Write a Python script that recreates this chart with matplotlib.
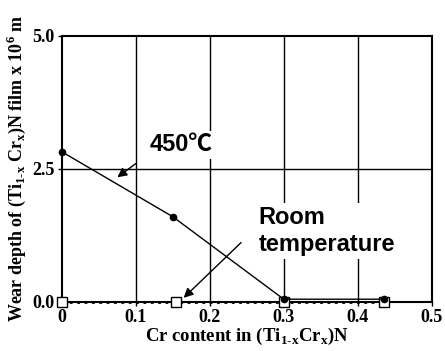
import matplotlib
matplotlib.use('Agg')
import matplotlib.pyplot as plt

# Cr content x in (Ti1-xCrx)N
cr_450 = [0.0, 0.15, 0.30, 0.435]
wear_450 = [2.82, 1.60, 0.05, 0.05]

cr_room = [0.0, 0.155, 0.30, 0.435]
wear_room = [0.0, 0.0, 0.0, 0.0]

xticks = [0, 0.1, 0.2, 0.3, 0.4, 0.5]
xticklabels = ['0', '0.1', '0.2', '0.3', '0.4', '0.5']
yticks = [0.0, 2.5, 5.0]
yticklabels = ['0.0', '2.5', '5.0']

plt.rcParams['mathtext.fontset'] = 'custom'
plt.rcParams['mathtext.rm'] = 'Liberation Serif:bold'
plt.rcParams['mathtext.bf'] = 'Liberation Serif:bold'

serif = {'family': 'Liberation Serif', 'weight': 'bold'}
sans = ['Liberation Sans', 'Noto Sans CJK JP', 'DejaVu Sans']

fig = plt.figure(figsize=(4.45, 3.51), dpi=100)
ax = fig.add_axes([0.139, 0.14, 0.831, 0.758])

ax.set_xlim(0, 0.5)
ax.set_ylim(0, 5.0)

# grid lines
for x in xticks[1:-1]:
    ax.axvline(x, color='black', lw=1, zorder=0)
ax.axhline(2.5, color='black', lw=1, zorder=0)

ax.plot(cr_room, wear_room, ':', color='black', lw=2, marker='s', ms=7,
        mfc='white', mec='black', mew=1, clip_on=False, zorder=3)
ax.plot(cr_450, wear_450, '-', color='black', lw=1, marker='o', ms=4.5,
        mfc='black', mec='black', clip_on=False, zorder=4)

ax.set_xticks(xticks)
ax.set_xticklabels(xticklabels, fontdict=serif, fontsize=13)
ax.set_yticks(yticks)
ax.set_yticklabels(yticklabels, fontdict=serif, fontsize=13)
ax.tick_params(direction='out', length=3, width=1, pad=2)
for s in ax.spines.values():
    s.set_linewidth(1.5)

ax.set_xlabel('Cr content in (Ti$_{\\mathbf{1\\text{-}x}}$Cr$_{\\mathbf{x}}$)N',
              fontdict=serif, fontsize=13.5, labelpad=0)
ax.set_ylabel('Wear depth of (Ti$_{\\mathbf{1\\text{-}x}}$ Cr$_{\\mathbf{x}}$)N film x 10$^{\\mathbf{6}}$ m',
              fontdict=serif, fontsize=13, labelpad=3)

ax.text(0.119, 2.95, '450℃', family=sans, fontweight='bold', fontsize=17,
        va='center', ha='left', zorder=5,
        bbox=dict(facecolor='white', edgecolor='none', pad=2))
ax.text(0.266, 1.33, 'Room\ntemperature', family=sans, fontweight='bold',
        fontsize=17, va='center', ha='left', linespacing=1.25, zorder=5,
        bbox=dict(facecolor='white', edgecolor='none', pad=2))

arrow = dict(arrowstyle='-|>', color='black', lw=1, mutation_scale=14)
ax.annotate('', xy=(0.072, 2.31), xytext=(0.103, 2.63), arrowprops=arrow, zorder=6)
ax.annotate('', xy=(0.162, 0.04), xytext=(0.245, 1.15), arrowprops=arrow, zorder=6)

fig.savefig('out.png', dpi=100)
